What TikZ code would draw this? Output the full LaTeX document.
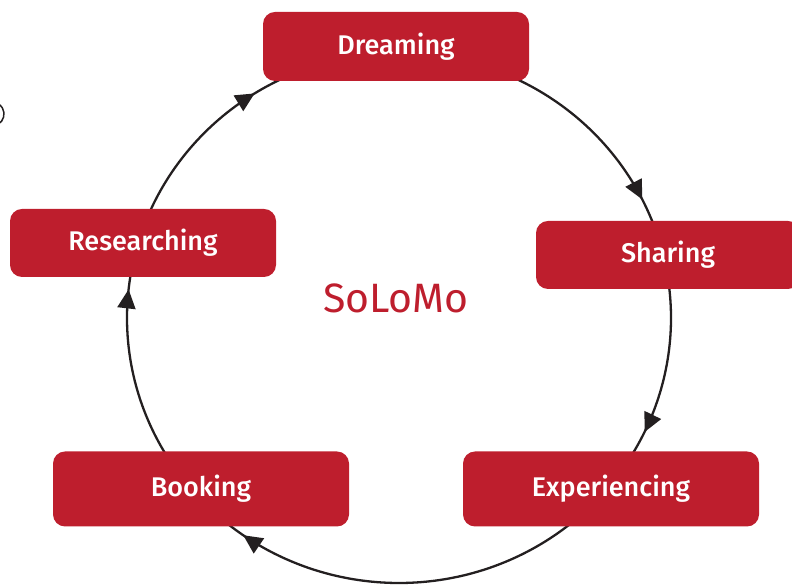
\documentclass[tikz,border=0pt]{standalone}
\usepackage{fontspec}
\setmainfont{Fira Sans Medium}
\newfontfamily\titlefont{Fira Sans}
\usetikzlibrary{arrows.meta,decorations.markings}
\definecolor{boxred}{HTML}{BE1E2D}
\definecolor{lineblack}{HTML}{231F20}
\begin{document}
\begin{tikzpicture}[x=1pt,y=1pt,
  stage/.style={fill=boxred, rounded corners=12pt, text=white,
    font=\fontsize{27}{32}\selectfont, inner sep=0pt},
  cycleline/.style={draw=lineblack, line width=2.3pt},
  title/.style={text=boxred, font=\titlefont\fontsize{41}{48}\selectfont}]
\useasboundingbox (0,0) rectangle (792,585);
\clip (0,0) rectangle (792,585);
\coordinate (ctr) at (399,267);
% cycle
\draw[cycleline,
  decoration={markings,
    mark=at position 0.177 with {\arrow[lineblack]{Triangle[length=19pt,width=18pt]}},
    mark=at position 0.320 with {\arrow[lineblack]{Triangle[length=19pt,width=18pt]}},
    mark=at position 0.598 with {\arrow[lineblack]{Triangle[length=19pt,width=18pt]}},
    mark=at position 0.767 with {\arrow[lineblack]{Triangle[length=19pt,width=18pt]}},
    mark=at position 0.910 with {\arrow[lineblack]{Triangle[length=19pt,width=18pt]}}},
  postaction={decorate}]
  plot[domain=450:90, samples=181, smooth, variable=\t]
  ({399+272*cos(\t)},{267+265*sin(\t)});
% stage boxes
\node[stage, minimum width=266pt, minimum height=69pt] (dream) at (396,538.5) {Dreaming};
\node[stage, minimum width=264pt, minimum height=68pt] (share) at (668,330) {Sharing};
\node[stage, minimum width=296pt, minimum height=75pt] (exp) at (611,96) {Experiencing};
\node[stage, minimum width=296pt, minimum height=75pt] (book) at (201,96) {Booking};
\node[stage, minimum width=266pt, minimum height=68pt] (res) at (143,342) {Researching};
\node[title] (solomo) at (396,287) {SoLoMo};
% partial mark at left edge
\draw[draw=lineblack, line width=1.5pt] (-8,471) ++(-60:12) arc[start angle=-60, end angle=60, radius=12];
\end{tikzpicture}
\end{document}
